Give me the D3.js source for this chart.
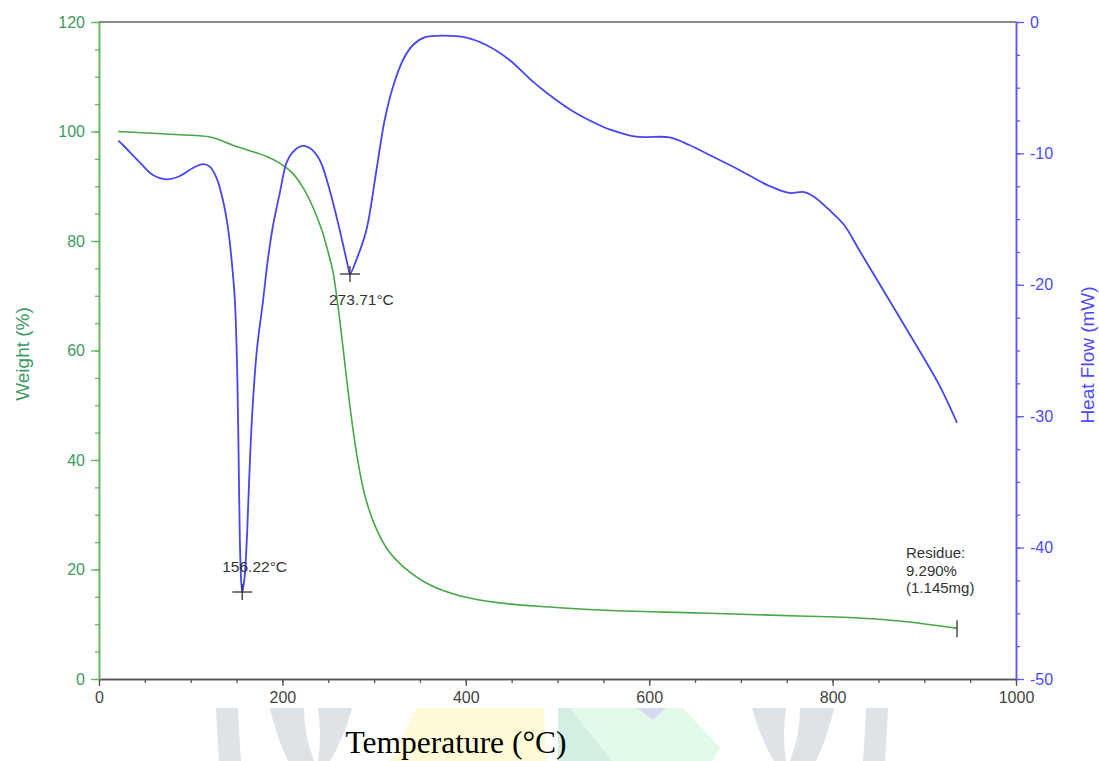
<!DOCTYPE html>
<html>
<head>
<meta charset="utf-8">
<script src="https://cdn.jsdelivr.net/npm/d3@7"></script>
<style>
  html, body { margin: 0; padding: 0; background: #fff; }
  svg { display: block; }
  text { font-family: "Liberation Sans", Arial, sans-serif; }
</style>
</head>
<body>
<svg id="chart" width="1099" height="761"></svg>
<script>
// ---------------- DATA ----------------
const weightTemp = [21, 88, 121, 146, 168, 186, 200, 211, 222, 233, 244, 246.2, 255.2, 258, 260.7, 262.5, 265.8, 270.2, 275.6, 282.1, 289.8, 300.7, 314.8, 333.3, 360.6, 393.3, 436.8, 491.3, 545.8, 654.7, 763.6, 818, 872.5, 935.7];
const weightPct  = [100, 99.4, 99.0, 97.5, 96.3, 95.2, 93.9, 92.4, 89.9, 86.3, 81.5, 80.2, 74.4, 71.3, 68.0, 65.6, 61.0, 54.6, 47.3, 40.0, 33.6, 28.1, 23.6, 20.3, 17.2, 15.2, 13.9, 13.15, 12.6, 12.05, 11.5, 11.23, 10.6, 9.29];

const heatTemp = [21, 26.1, 44.7, 58.8, 73.7, 88.2, 102.4, 113.3, 120.9, 128.2, 135.1, 140.5, 144.6, 148.2, 150.9, 152.3, 153.6, 155.0, 156.22, 157.6, 159, 161.2, 162.9, 166.7, 172.1, 178.9, 184.1, 189.5, 197.2, 204.5, 211.3, 220.8, 229.8, 240.7, 251.6, 262.5, 271.6, 273.71, 280.7, 291.6, 302.5, 311.5, 320.6, 331.5, 342.4, 355.1, 375, 400.5, 422.3, 447.7, 473.1, 498.6, 520.4, 549.4, 556.6, 585.7, 622, 643.8, 665.6, 698.3, 731, 752.7, 769, 779.7, 796.3, 812.6, 829, 845.3, 861.7, 878, 894.3, 916.1, 935.7];
const heatFlow = [-9.03, -9.36, -10.7, -11.64, -11.97, -11.72, -11.11, -10.81, -11.01, -11.87, -13.55, -15.6, -18.1, -21.2, -27.2, -33.3, -39.4, -42.5, -43.38, -42.9, -42.1, -39.4, -36.4, -30.3, -25.0, -21.2, -18.1, -15.6, -13.0, -10.7, -9.9, -9.44, -9.59, -10.5, -12.8, -15.83, -18.62, -19.18, -18.1, -15.83, -11.3, -7.46, -4.92, -2.89, -1.75, -1.17, -1.04, -1.19, -1.75, -2.89, -4.54, -5.94, -6.95, -7.97, -8.17, -8.73, -8.78, -9.36, -10.12, -11.26, -12.48, -13.01, -12.94, -13.3, -14.3, -15.45, -17.35, -19.25, -21.16, -23.06, -24.96, -27.6, -30.5];

const xTicks = [0, 200, 400, 600, 800, 1000];
const xMinorTicks = d3.range(0, 1001, 50);
const leftTicks = [0, 20, 40, 60, 80, 100, 120];
const leftMinorTicks = d3.range(0, 121, 5);
const rightTicks = [0, -10, -20, -30, -40, -50];
const rightMinorTicks = d3.range(-50, 0.1, 2.5);

const peakTemps = [156.22, 273.71];
const peakFlows = [-43.38, -19.18];
const peakLabels = ["156.22°C", "273.71°C"];
const residueTemp = 935.7;
const residueWeight = 9.29;
const residueLines = ["Residue:", "9.290%", "(1.145mg)"];

// ---------------- SETUP ----------------
const svg = d3.select("#chart");
const L = 99, R = 1016, T = 22, B = 679;
const x = d3.scaleLinear().domain([0, 1000]).range([L, R]);
const yL = d3.scaleLinear().domain([0, 120]).range([B, T]);
const yR = d3.scaleLinear().domain([-50, 0]).range([B, T]);

const GREEN = "#46a846", GREEN_TXT = "#3d9a62", BLUE = "#4646f5", BLUE_TXT = "#4a4aff";
const fmt = d => String(d);

// ---------------- WATERMARK ----------------
const wm = svg.append("g");
const grey = "#dde3e6";
const poly = (pts, fill) => wm.append("polygon").attr("points", pts.map(p => p.join(",")).join(" ")).attr("fill", fill);
poly([[417, 708], [544, 708], [546, 761], [390, 761]], "#fefbd6");
poly([[558, 708], [683, 708], [720, 748], [712, 761], [558, 761]], "#e2fbe9");
poly([[558, 708], [570, 708], [612, 761], [558, 761]], "#d3efe2");
poly([[637, 708], [666, 708], [653, 720]], "#d6d9f4");
const greyPaths = [
  "M216,708 L238,708 Q239,735 241,761 L219,761 Q217,735 216,708 Z",
  "M270,708 L304,708 Q304,736 314,761 L288,761 Q276,736 270,708 Z",
  "M318,708 L352,708 Q344,738 330,761 L318,761 Q322,736 318,708 Z"
];
greyPaths.forEach(d => {
  wm.append("path").attr("d", d).attr("fill", grey);
  wm.append("path").attr("d", d).attr("fill", grey).attr("transform", "translate(1104,0) scale(-1,1)");
});

// ---------------- AXES ----------------
svg.append("line").attr("x1", L).attr("x2", R).attr("y1", T).attr("y2", T)
  .attr("stroke", "#8a8a8a").attr("stroke-width", 2);

function styleAxis(g, color, txtColor) {
  g.select(".domain").attr("stroke", color).attr("stroke-width", 1.5);
  g.selectAll(".tick line").attr("stroke", color).attr("stroke-width", 1.3);
  g.selectAll(".tick text").attr("fill", txtColor).style("font-size", "16px")
    .style("font-family", "'Liberation Sans', Arial, sans-serif");
}

const gxm = svg.append("g").attr("transform", `translate(0,${B})`)
  .call(d3.axisBottom(x).tickValues(xMinorTicks).tickSize(4).tickSizeOuter(0).tickFormat(""));
styleAxis(gxm, "#555", "#444");
const gx = svg.append("g").attr("transform", `translate(0,${B})`)
  .call(d3.axisBottom(x).tickValues(xTicks).tickSize(7).tickPadding(6).tickSizeOuter(0).tickFormat(fmt));
styleAxis(gx, "#555", "#444");

const glm = svg.append("g").attr("transform", `translate(${L},0)`)
  .call(d3.axisLeft(yL).tickValues(leftMinorTicks).tickSize(4).tickSizeOuter(0).tickFormat(""));
styleAxis(glm, "#5cb85c", GREEN_TXT);
const gl = svg.append("g").attr("transform", `translate(${L},0)`)
  .call(d3.axisLeft(yL).tickValues(leftTicks).tickSize(8).tickPadding(6).tickSizeOuter(0).tickFormat(fmt));
styleAxis(gl, "#5cb85c", GREEN_TXT);

const grm = svg.append("g").attr("transform", `translate(${R},0)`)
  .call(d3.axisRight(yR).tickValues(rightMinorTicks).tickSize(4).tickSizeOuter(0).tickFormat(""));
styleAxis(grm, "#5a5aff", BLUE_TXT);
const gr = svg.append("g").attr("transform", `translate(${R},0)`)
  .call(d3.axisRight(yR).tickValues(rightTicks).tickSize(8).tickPadding(6).tickSizeOuter(0).tickFormat(fmt));
styleAxis(gr, "#5a5aff", BLUE_TXT);

// axis titles
svg.append("text").attr("transform", `translate(29,354) rotate(-90)`)
  .attr("text-anchor", "middle").attr("fill", GREEN_TXT)
  .style("font-size", "19px").text("Weight (%)");
svg.append("text").attr("transform", `translate(1094,355) rotate(-90)`)
  .attr("text-anchor", "middle").attr("fill", BLUE_TXT)
  .style("font-size", "19px").text("Heat Flow (mW)");
svg.append("text").attr("x", 456).attr("y", 753).attr("text-anchor", "middle")
  .attr("fill", "#000").style("font-family", "'Liberation Serif', 'Times New Roman', serif")
  .style("font-size", "31.5px").text("Temperature (°C)");

// ---------------- LINES ----------------
const weightLine = d3.line().x((d, i) => x(weightTemp[i])).y(d => yL(d)).curve(d3.curveCatmullRom.alpha(0.5));
svg.append("path").attr("d", weightLine(weightPct)).attr("fill", "none")
  .attr("stroke", GREEN).attr("stroke-width", 1.6);

const heatLine = d3.line().x((d, i) => x(heatTemp[i])).y(d => yR(d)).curve(d3.curveCatmullRom.alpha(0.5));
svg.append("path").attr("d", heatLine(heatFlow)).attr("fill", "none")
  .attr("stroke", BLUE).attr("stroke-width", 1.8);

// ---------------- ANNOTATIONS ----------------
const annot = svg.append("g").attr("stroke", "#333").attr("stroke-width", 1.3);
peakTemps.forEach((t, i) => {
  const cx = x(t), cy = yR(peakFlows[i]);
  annot.append("line").attr("x1", cx - 10).attr("x2", cx + 10).attr("y1", cy).attr("y2", cy);
  annot.append("line").attr("x1", cx).attr("x2", cx).attr("y1", cy - 8).attr("y2", cy + 8);
});
svg.append("text").attr("x", x(peakTemps[0]) - 20).attr("y", yR(peakFlows[0]) - 20)
  .attr("fill", "#333").style("font-size", "15.5px").text(peakLabels[0]);
svg.append("text").attr("x", x(peakTemps[1]) - 21).attr("y", yR(peakFlows[1]) + 31)
  .attr("fill", "#333").style("font-size", "15.5px").text(peakLabels[1]);

const rx = x(residueTemp), ry = yL(residueWeight);
annot.append("line").attr("x1", rx).attr("x2", rx).attr("y1", ry - 8).attr("y2", ry + 9);
const rt = svg.append("text").attr("fill", "#333").style("font-size", "15px");
residueLines.forEach((s, i) => {
  rt.append("tspan").attr("x", rx - 51).attr("y", ry - 70 + i * 17.5).text(s);
});
</script>
</body>
</html>
